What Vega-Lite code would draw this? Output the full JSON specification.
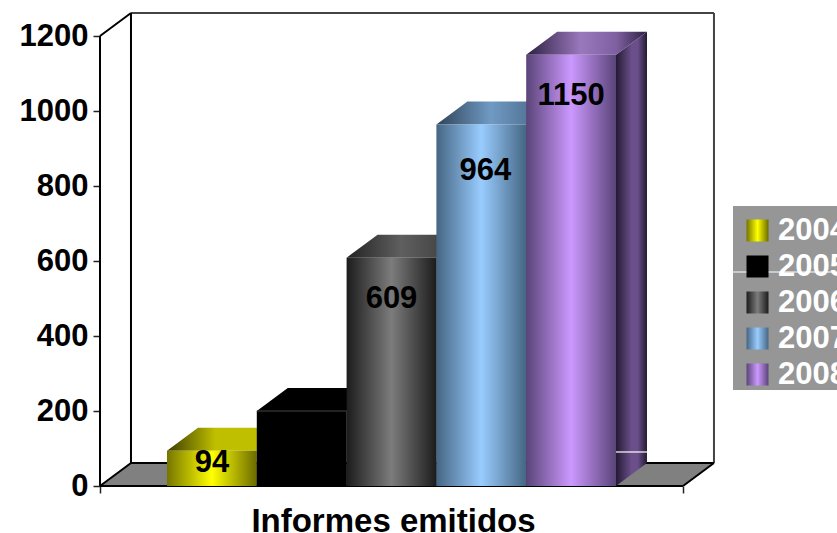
{"$schema":"https://vega.github.io/schema/vega-lite/v6.json","width":737,"height":486,"autosize":"none","padding":{"left":100,"top":0,"right":0,"bottom":47},"background":"white","config":{"view":{"stroke":null},"font":"Liberation Sans"},"params":[
{"name":"front","expr":"{'2004':{gradient:'linear',x1:0,x2:1,y1:0,y2:0,stops:[{offset:0,color:'#757500'},{offset:0.5,color:'#ffff00'},{offset:1,color:'#6b6b00'}]},'2005':{gradient:'linear',x1:0,x2:1,y1:0,y2:0,stops:[{offset:0,color:'#000000'},{offset:1,color:'#000000'}]},'2006':{gradient:'linear',x1:0,x2:1,y1:0,y2:0,stops:[{offset:0,color:'#1c1c1c'},{offset:0.5,color:'#7c7c7c'},{offset:1,color:'#1c1c1c'}]},'2007':{gradient:'linear',x1:0,x2:1,y1:0,y2:0,stops:[{offset:0,color:'#456683'},{offset:0.5,color:'#99ccff'},{offset:1,color:'#456683'}]},'2008':{gradient:'linear',x1:0,x2:1,y1:0,y2:0,stops:[{offset:0,color:'#5a4478'},{offset:0.5,color:'#cc99ff'},{offset:1,color:'#5a4478'}]}}"},
{"name":"top","expr":"{'2004':{gradient:'linear',x1:0,x2:1,y1:0,y2:0,stops:[{offset:0,color:'#3d3d00'},{offset:0.4,color:'#bfbf00'},{offset:1,color:'#bfbf00'}]},'2005':{gradient:'linear',x1:0,x2:1,y1:0,y2:0,stops:[{offset:0,color:'#000000'},{offset:1,color:'#000000'}]},'2006':{gradient:'linear',x1:0,x2:1,y1:0,y2:0,stops:[{offset:0,color:'#222222'},{offset:0.45,color:'#5f5f5f'},{offset:1,color:'#333333'}]},'2007':{gradient:'linear',x1:0,x2:1,y1:0,y2:0,stops:[{offset:0,color:'#2f4358'},{offset:0.45,color:'#709ac4'},{offset:1,color:'#3e5a76'}]},'2008':{gradient:'linear',x1:0,x2:1,y1:0,y2:0,stops:[{offset:0,color:'#2c2040'},{offset:0.45,color:'#9a78bc'},{offset:0.75,color:'#7e5fa0'},{offset:1,color:'#2c2040'}]}}"},
{"name":"side","expr":"{'2004':{gradient:'linear',x1:0,x2:1,y1:0,y2:0,stops:[{offset:0,color:'#333300'},{offset:0.5,color:'#808000'},{offset:1,color:'#333300'}]},'2005':{gradient:'linear',x1:0,x2:1,y1:0,y2:0,stops:[{offset:0,color:'#000000'},{offset:1,color:'#000000'}]},'2006':{gradient:'linear',x1:0,x2:1,y1:0,y2:0,stops:[{offset:0,color:'#111111'},{offset:0.5,color:'#444444'},{offset:1,color:'#111111'}]},'2007':{gradient:'linear',x1:0,x2:1,y1:0,y2:0,stops:[{offset:0,color:'#263a50'},{offset:0.5,color:'#4d7198'},{offset:1,color:'#263a50'}]},'2008':{gradient:'linear',x1:0,x2:1,y1:0,y2:0,stops:[{offset:0,color:'#241a33'},{offset:0.5,color:'#6a4f8a'},{offset:0.7,color:'#6a4f8a'},{offset:1,color:'#241a33'}]}}"}
],"data":{"values":[{"anio":2004,"informes":94},{"anio":2005,"informes":200},{"anio":2006,"informes":609},{"anio":2007,"informes":964},{"anio":2008,"informes":1150}]},"resolve":{"axis":{"x":"independent","y":"independent"}},"layer":[
{"data":{"values":[{}]},"mark":{"type":"rect","color":"#969696"},"encoding":{"x":{"datum":2010.303,"type":"quantitative","axis":null},"x2":{"datum":2011.461},"y":{"datum":746.7,"type":"quantitative","axis":null},"y2":{"datum":256}}},
{"data":{"values":[{}]},"mark":{"type":"rule","color":"white","strokeWidth":1.2},"encoding":{"x":{"datum":2010.303,"type":"quantitative","axis":null},"x2":{"datum":2011.461},"y":{"datum":570.7,"type":"quantitative","axis":null}}},
{"data":{"values":[{"f":0},{"f":1}]},"transform":[{"calculate":"2003.254+0.345*datum.f","as":"a"},{"calculate":"2009.746+0.345*datum.f","as":"b"},{"calculate":"61.3*datum.f","as":"c"}],"mark":{"type":"area","orient":"horizontal","color":"#808080"},"encoding":{"x":{"field":"a","type":"quantitative","axis":null},"x2":{"field":"b"},"y":{"field":"c","type":"quantitative","axis":null,"stack":null}}},
{"data":{"values":[{}]},"mark":{"type":"rule","color":"#444444","strokeWidth":2},"encoding":{"x":{"datum":2003.599,"type":"quantitative","axis":null},"x2":{"datum":2010.091},"y":{"datum":1261.3,"type":"quantitative","axis":null}}},
{"data":{"values":[{}]},"mark":{"type":"rule","color":"#444444","strokeWidth":2},"encoding":{"x":{"datum":2010.091,"type":"quantitative","axis":null},"y":{"datum":61.3,"type":"quantitative","axis":null},"y2":{"datum":1261.3}}},
{"data":{"values":[{}]},"mark":{"type":"rule","color":"#000000","strokeWidth":2},"encoding":{"x":{"datum":2003.599,"type":"quantitative","axis":null},"y":{"datum":61.3,"type":"quantitative","axis":null},"y2":{"datum":1261.3}}},
{"data":{"values":[{}]},"mark":{"type":"rule","color":"#000000","strokeWidth":2},"encoding":{"x":{"datum":2003.599,"type":"quantitative","axis":null},"x2":{"datum":2010.091},"y":{"datum":61.3,"type":"quantitative","axis":null}}},
{"data":{"values":[{}]},"mark":{"type":"rule","color":"#000000","strokeWidth":2},"encoding":{"x":{"datum":2003.254,"type":"quantitative","axis":null},"x2":{"datum":2003.599},"y":{"datum":0,"type":"quantitative","axis":null},"y2":{"datum":61.3}}},
{"data":{"values":[{}]},"mark":{"type":"rule","color":"#000000","strokeWidth":2},"encoding":{"x":{"datum":2009.746,"type":"quantitative","axis":null},"x2":{"datum":2010.091},"y":{"datum":0,"type":"quantitative","axis":null},"y2":{"datum":61.3}}},
{"data":{"values":[{}]},"mark":{"type":"rule","color":"#000000","strokeWidth":2},"encoding":{"x":{"datum":2003.254,"type":"quantitative","axis":null},"x2":{"datum":2003.599},"y":{"datum":1200,"type":"quantitative","axis":null},"y2":{"datum":1261.3}}},
{"data":{"values":[{}]},"mark":{"type":"rule","color":"#000000","strokeWidth":2},"encoding":{"x":{"datum":2003.254,"type":"quantitative","axis":null},"y":{"datum":0,"type":"quantitative","axis":null},"y2":{"datum":1200}}},
{"data":{"values":[{}]},"mark":{"type":"rule","color":"#000000","strokeWidth":2},"encoding":{"x":{"datum":2003.254,"type":"quantitative","axis":null},"x2":{"datum":2009.746},"y":{"datum":0,"type":"quantitative","axis":null}}},
{"transform":[{"calculate":"[0,1]","as":"f"},{"flatten":["f"]},{"calculate":"datum.anio+1+0.345*datum.f","as":"sx"},{"calculate":"datum.informes+61.3*datum.f","as":"sy"},{"calculate":"61.3*datum.f","as":"sy0"}],"mark":{"type":"area","orient":"vertical","fill":{"expr":"side[datum.anio]"}},"encoding":{"x":{"field":"sx","type":"quantitative","axis":null},"y":{"field":"sy","type":"quantitative","axis":null,"stack":null},"y2":{"field":"sy0"},"detail":{"field":"anio"}}},
{"data":{"values":[{}]},"mark":{"type":"rule","color":"white","strokeWidth":1.2},"encoding":{"x":{"datum":2009,"type":"quantitative","axis":null},"x2":{"datum":2009.345},"y":{"datum":90.7,"type":"quantitative","axis":null}}},
{"transform":[{"calculate":"[0,1]","as":"f"},{"flatten":["f"]},{"calculate":"datum.anio+0.345*datum.f","as":"tx"},{"calculate":"datum.anio+1+0.345*datum.f","as":"tx2"},{"calculate":"datum.informes+61.3*datum.f","as":"ty"}],"mark":{"type":"area","orient":"horizontal","fill":{"expr":"top[datum.anio]"}},"encoding":{"x":{"field":"tx","type":"quantitative","axis":null},"x2":{"field":"tx2"},"y":{"field":"ty","type":"quantitative","axis":null,"stack":null},"detail":{"field":"anio"}}},
{"transform":[{"calculate":"datum.anio+1","as":"fin"}],"mark":{"type":"rect"},"encoding":{"x":{"field":"anio","type":"quantitative","scale":{"domain":[2003.254,2011.461],"nice":false,"zero":false},"axis":{"values":[2003.254,2009.746],"labels":false,"domain":false,"grid":false,"tickColor":"#222222","tickSize":7,"tickWidth":1.5,"title":"Informes emitidos","titleFont":"Liberation Sans","titleFontSize":33,"titleFontWeight":"bold","titleColor":"#000000","titleAnchor":"start","titleAlign":"center","titleX":293,"titleY":35,"titleBaseline":"middle"}},"x2":{"field":"fin"},"y":{"field":"informes","type":"quantitative","stack":null,"scale":{"domain":[0,1296],"nice":false},"axis":{"values":[0,200,400,600,800,1000,1200],"format":"d","domain":false,"grid":false,"title":null,"tickColor":"#222222","tickSize":7,"tickWidth":1.5,"labelFont":"Liberation Sans","labelFontSize":31,"labelFontWeight":"bold","labelColor":"#000000","labelPadding":5}},"y2":{"datum":0},"color":{"field":"anio","type":"nominal","scale":{"domain":[2004,2005,2006,2007,2008],"range":[{"expr":"front['2004']"},{"expr":"front['2005']"},{"expr":"front['2006']"},{"expr":"front['2007']"},{"expr":"front['2008']"}]},"legend":{"orient":"none","legendX":642,"legendY":215,"title":null,"symbolType":"square","symbolSize":484,"symbolStrokeWidth":0,"labelFont":"Liberation Sans","labelFontSize":31,"labelFontWeight":"bold","labelColor":"#ffffff","labelLimit":200,"labelOffset":5,"rowPadding":4,"padding":0}}}},
{"transform":[{"filter":"datum.anio==2005"},{"calculate":"datum.anio+1","as":"fin"}],"mark":{"type":"rule","color":"#444444","strokeWidth":1},"encoding":{"x":{"field":"anio","type":"quantitative","axis":null},"x2":{"field":"fin"},"y":{"field":"informes","type":"quantitative","axis":null,"stack":null}}},
{"transform":[{"filter":"datum.anio==2004"},{"calculate":"datum.anio+0.5","as":"centro"}],"mark":{"type":"text","font":"Liberation Sans","fontSize":31,"fontWeight":"bold","color":"#000000","dy":12,"baseline":"middle"},"encoding":{"x":{"field":"centro","type":"quantitative","axis":null},"y":{"field":"informes","type":"quantitative","axis":null,"stack":null},"text":{"field":"informes","type":"quantitative"}}},
{"transform":[{"filter":"datum.anio==2005||datum.anio==2006||datum.anio==2008"},{"calculate":"datum.anio+0.5","as":"centro"}],"mark":{"type":"text","font":"Liberation Sans","fontSize":31,"fontWeight":"bold","color":"#000000","dy":41,"baseline":"middle"},"encoding":{"x":{"field":"centro","type":"quantitative","axis":null},"y":{"field":"informes","type":"quantitative","axis":null,"stack":null},"text":{"field":"informes","type":"quantitative"}}},
{"transform":[{"filter":"datum.anio==2007"},{"calculate":"datum.anio+0.5","as":"centro"}],"mark":{"type":"text","font":"Liberation Sans","fontSize":31,"fontWeight":"bold","color":"#000000","dx":4,"dy":46,"baseline":"middle"},"encoding":{"x":{"field":"centro","type":"quantitative","axis":null},"y":{"field":"informes","type":"quantitative","axis":null,"stack":null},"text":{"field":"informes","type":"quantitative"}}}
]}
